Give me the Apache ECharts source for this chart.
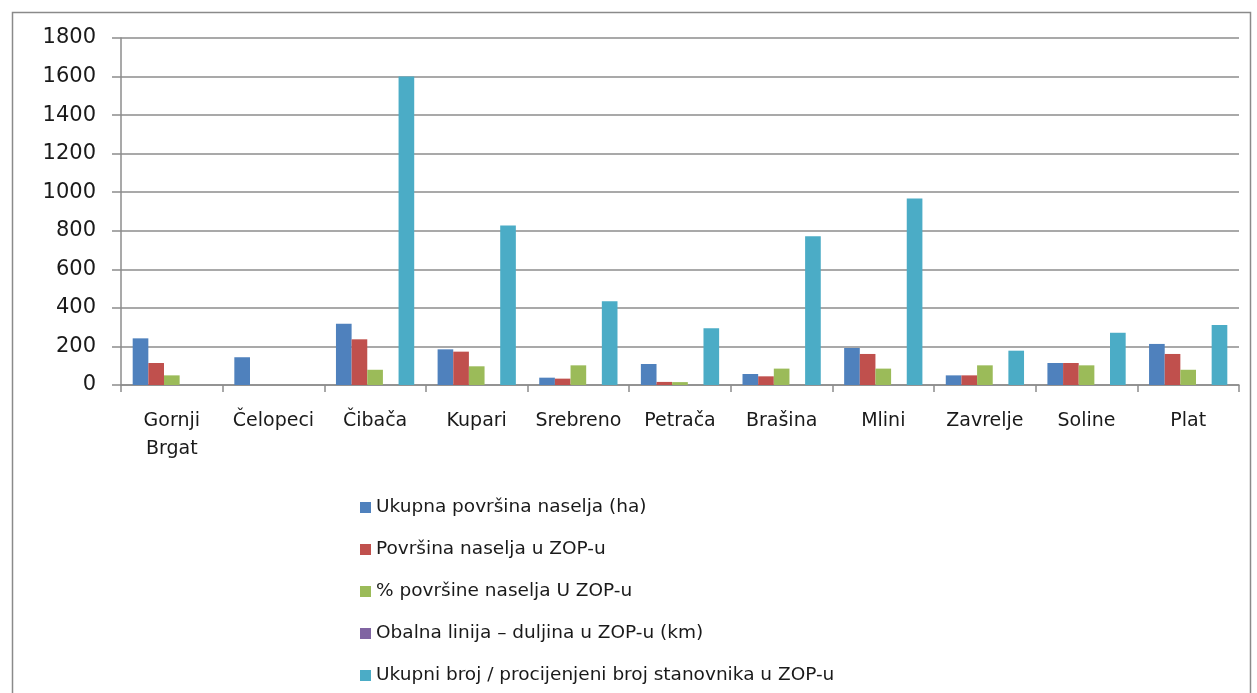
<!DOCTYPE html>
<html>
<head>
<meta charset="utf-8">
<script src="https://cdn.jsdelivr.net/npm/echarts@6/dist/echarts.min.js"></script>
<style>
  html, body { margin: 0; padding: 0; background: #ffffff; }
  #chart { width: 1257px; height: 693px; }
</style>
</head>
<body>
<div id="chart"></div>
<script>
// Settlements along the coastal protected zone (ZOP)
const categories = ['Gornji\nBrgat', 'Čelopeci', 'Čibača', 'Kupari', 'Srebreno', 'Petrača', 'Brašina', 'Mlini', 'Zavrelje', 'Soline', 'Plat'];

const seriesNames = [
  'Ukupna površina naselja (ha)',
  'Površina naselja u ZOP-u',
  '% površine naselja U ZOP-u',
  'Obalna linija – duljina u ZOP-u (km)',
  'Ukupni broj / procijenjeni broj stanovnika u ZOP-u'
];

const totalArea      = [242, 144, 318, 185, 38, 109, 57, 192, 50, 114, 213];
const areaInZop      = [114, 0, 237, 173, 33, 16, 45, 161, 50, 114, 161];
const percentInZop   = [50, 0, 79, 97, 102, 15, 85, 85, 102, 102, 79];
const coastlineKm    = [0, 0, 0, 0, 0, 0, 0, 0, 0, 0, 0];
const population     = [0, 0, 1600, 828, 434, 294, 771, 968, 178, 271, 311];

const yTicks = { min: 0, max: 1800, interval: 200 };

const colors = ['#4F81BD', '#C0504D', '#9BBB59', '#8064A2', '#4BACC6'];
const values = [totalArea, areaInZop, percentInZop, coastlineKm, population];

const FONT = 'DejaVu Sans';

const chart = echarts.init(document.getElementById('chart'), null, { renderer: 'canvas' });

chart.setOption({
  animation: false,
  backgroundColor: '#ffffff',
  color: colors,
  textStyle: { fontFamily: FONT },
  graphic: [{
    type: 'rect',
    shape: { x: 12.5, y: 12.5, width: 1238, height: 700 },
    style: { fill: 'none', stroke: '#8a8a8a', lineWidth: 1.5 },
    silent: true,
    z: -1
  }],
  grid: { left: 121, right: 18, top: 38, bottom: 308, containLabel: false },
  xAxis: {
    type: 'category',
    data: categories,
    axisLine: { lineStyle: { color: '#8c8c8c', width: 1.5 } },
    axisTick: { show: true, length: 7, lineStyle: { color: '#8c8c8c', width: 1.5 } },
    axisLabel: {
      interval: 0,
      margin: 22,
      color: '#1a1a1a',
      fontFamily: FONT,
      fontSize: 19,
      lineHeight: 28
    }
  },
  yAxis: {
    type: 'value',
    min: yTicks.min,
    max: yTicks.max,
    interval: yTicks.interval,
    axisLine: { show: true, lineStyle: { color: '#8c8c8c', width: 1.5 } },
    axisTick: { show: true, length: 9, lineStyle: { color: '#8c8c8c', width: 1.5 } },
    splitLine: { lineStyle: { color: '#8c8c8c', width: 1.5 } },
    axisLabel: {
      margin: 25,
      color: '#1a1a1a',
      fontFamily: FONT,
      fontSize: 21,
      formatter: (v) => String(v)
    }
  },
  legend: {
    orient: 'vertical',
    left: 360,
    top: 497,
    height: 300,
    padding: 0,
    itemWidth: 11,
    itemHeight: 11,
    itemGap: 21,
    icon: 'rect',
    data: seriesNames,
    textStyle: { fontFamily: FONT, fontSize: 18.5, color: '#1a1a1a', lineHeight: 21 }
  },
  series: seriesNames.map((name, i) => ({
    name: name,
    type: 'bar',
    data: values[i],
    barGap: '0%',
    barCategoryGap: '23%',
    itemStyle: { color: colors[i], borderWidth: 0 }
  }))
});
</script>
</body>
</html>
